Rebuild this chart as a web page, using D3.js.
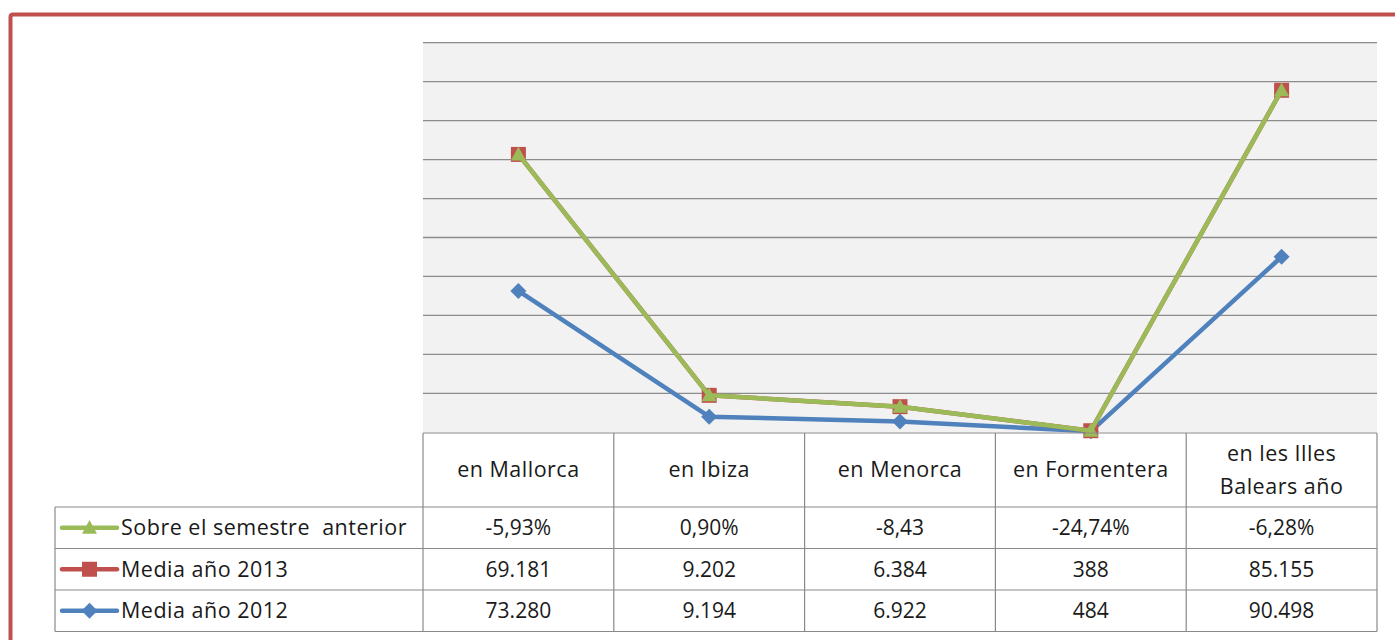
<!DOCTYPE html>
<html>
<head>
<meta charset="utf-8">
<script src="https://cdn.jsdelivr.net/npm/d3@7"></script>
<style>
  html, body { margin: 0; padding: 0; background: #fff; }
  svg { display: block; font-family: "Open Sans", sans-serif; }
</style>
</head>
<body>
<div id="chart"></div>
<script>
// categories (table header)
const categories = ["en Mallorca", "en Ibiza", "en Menorca", "en Formentera", "en les Illes Balears año"];

// values as plotted
const plotSemestre = [69181, 9202, 6384, 388, 85155];
const plot2013 = [69181, 9202, 6384, 388, 85155];
const plot2012 = [35200, 3900, 2700, 250, 43700];

// values as printed in the data table
const textSemestre = ["-5,93%", "0,90%", "-8,43", "-24,74%", "-6,28%"];
const text2013 = ["69.181", "9.202", "6.384", "388", "85.155"];
const text2012 = ["73.280", "9.194", "6.922", "484", "90.498"];

const seriesNames = ["Sobre el semestre  anterior", "Media año 2013", "Media año 2012"];

const W = 1395, H = 640;
const plot = {left: 423, right: 1377, top: 42.7, bottom: 432.3};
const yMax = 97000;
const nGrid = 10;

const series = [
  {name: seriesNames[2], values: plot2012, text: text2012, color: "#4f81bd", marker: "diamond"},
  {name: seriesNames[1], values: plot2013, text: text2013, color: "#c0504d", marker: "square"},
  {name: seriesNames[0], values: plotSemestre, text: textSemestre, color: "#9bbb59", marker: "triangle"},
];
// table rows go top to bottom: semestre, 2013, 2012
const tableRows = [series[2], series[1], series[0]];

const svg = d3.select("#chart").append("svg")
  .attr("width", W)
  .attr("height", H);

const x = d3.scaleBand()
  .domain(categories)
  .range([plot.left, plot.right]);
const y = d3.scaleLinear()
  .domain([0, yMax])
  .range([plot.bottom, plot.top]);

// plot area
svg.append("rect")
  .attr("x", plot.left).attr("y", plot.top)
  .attr("width", plot.right - plot.left)
  .attr("height", plot.bottom - plot.top)
  .attr("fill", "#f2f2f2");

const gridVals = d3.range(1, nGrid + 1).map(i => i * yMax / nGrid);
svg.append("g")
  .selectAll("line")
  .data(gridVals)
  .join("line")
    .attr("x1", plot.left).attr("x2", plot.right)
    .attr("y1", d => y(d)).attr("y2", d => y(d))
    .attr("stroke", "#8c8c8c")
    .attr("stroke-width", 1.3);

function markerPath(type, size) {
  const s = size / 2;
  if (type === "square") return `M${-s},${-s}H${s}V${s}H${-s}Z`;
  if (type === "diamond") return `M0,${-s}L${s},0L0,${s}L${-s},0Z`;
  return `M0,${-s * 1.05}L${s},${s * 0.8}L${-s},${s * 0.8}Z`;
}
const markerSize = {square: 15, diamond: 16, triangle: 15};

const line = d3.line()
  .x((d, i) => x(categories[i]) + x.bandwidth() / 2)
  .y(d => y(d));

const lines = svg.append("g");
for (const s of series) {
  const g = lines.append("g");
  g.append("path")
    .attr("d", line(s.values))
    .attr("fill", "none")
    .attr("stroke", s.color)
    .attr("stroke-width", 4.5)
    .attr("stroke-linejoin", "round");
  g.selectAll("path.m")
    .data(s.values)
    .join("path")
      .attr("class", "m")
      .attr("d", markerPath(s.marker, markerSize[s.marker]))
      .attr("transform", (d, i) => `translate(${x(categories[i]) + x.bandwidth() / 2},${y(d)})`)
      .attr("fill", s.color);
}

// data table
const tbl = {left: 55, top: 433, headBottom: 507, rowH: 41.5};
const rowTops = tableRows.map((r, i) => tbl.headBottom + i * tbl.rowH);
const tblBottom = tbl.headBottom + tableRows.length * tbl.rowH;
const gridColor = "#8a8a8a";
const labelSize = 21.5;   // words (header, legend names)
const numSize = 21;       // cell values
const labelSpacing = 0.5;

const table = svg.append("g");
table.append("line")
  .attr("x1", plot.left).attr("x2", plot.right)
  .attr("y1", tbl.top).attr("y2", tbl.top)
  .attr("stroke", gridColor).attr("stroke-width", 1.2);
table.selectAll("line.h")
  .data(rowTops.concat([tblBottom]))
  .join("line")
    .attr("class", "h")
    .attr("x1", tbl.left).attr("x2", plot.right)
    .attr("y1", d => d).attr("y2", d => d)
    .attr("stroke", gridColor).attr("stroke-width", 1.2);
const colEdges = categories.map(c => x(c)).concat([plot.right]);
table.selectAll("line.v")
  .data(colEdges)
  .join("line")
    .attr("class", "v")
    .attr("x1", d => d).attr("x2", d => d)
    .attr("y1", tbl.top).attr("y2", tblBottom)
    .attr("stroke", gridColor).attr("stroke-width", 1.2);
table.append("line")
  .attr("x1", tbl.left).attr("x2", tbl.left)
  .attr("y1", tbl.headBottom).attr("y2", tblBottom)
  .attr("stroke", gridColor).attr("stroke-width", 1.2);

// header with simple word wrap
const headCenter = (tbl.top + tbl.headBottom) / 2;
categories.forEach(c => {
  const t = table.append("text")
    .attr("x", x(c) + x.bandwidth() / 2)
    .attr("text-anchor", "middle")
    .attr("font-size", labelSize)
    .attr("letter-spacing", labelSpacing)
    .attr("fill", "#1a1a1a");
  const words = c.split(" ");
  let lns = [];
  let cur = [];
  for (const w of words) {
    cur.push(w);
    t.text(cur.join(" "));
    if (t.node().getComputedTextLength() > x.bandwidth() - 24 && cur.length > 1) {
      cur.pop();
      lns.push(cur.join(" "));
      cur = [w];
    }
  }
  lns.push(cur.join(" "));
  t.text(null);
  const lh = 33;
  lns.forEach((l, i) => {
    t.append("tspan")
      .attr("x", x(c) + x.bandwidth() / 2)
      .attr("y", headCenter + 7 + (i - (lns.length - 1) / 2) * lh)
      .text(l);
  });
});

// rows
tableRows.forEach((s, ri) => {
  const cy = rowTops[ri] + tbl.rowH / 2;
  const g = table.append("g");
  g.append("line")
    .attr("x1", 62).attr("x2", 117)
    .attr("y1", cy).attr("y2", cy)
    .attr("stroke", s.color).attr("stroke-width", 4.5)
    .attr("stroke-linecap", "round");
  g.append("path")
    .attr("d", markerPath(s.marker, markerSize[s.marker]))
    .attr("transform", `translate(89.5,${cy})`)
    .attr("fill", s.color);
  g.append("text")
    .attr("x", 121)
    .attr("y", cy + 7.5)
    .attr("font-size", labelSize)
    .attr("letter-spacing", labelSpacing)
    .attr("fill", "#1a1a1a")
    .attr("xml:space", "preserve")
    .style("white-space", "pre")
    .text(s.name);
  g.selectAll("text.v")
    .data(s.text)
    .join("text")
      .attr("class", "v")
      .attr("x", (d, i) => x(categories[i]) + x.bandwidth() / 2)
      .attr("y", cy + 7.5)
      .attr("text-anchor", "middle")
      .attr("font-size", numSize)
      .attr("fill", "#1a1a1a")
      .text(d => d);
});

// outer frame (only top and left edges are visible)
svg.append("path")
  .attr("d", `M10.5,${H}V17Q10.5,14.5 13,14.5H${W}`)
  .attr("fill", "none")
  .attr("stroke", "#c0504d")
  .attr("stroke-width", 4);
</script>
</body>
</html>
